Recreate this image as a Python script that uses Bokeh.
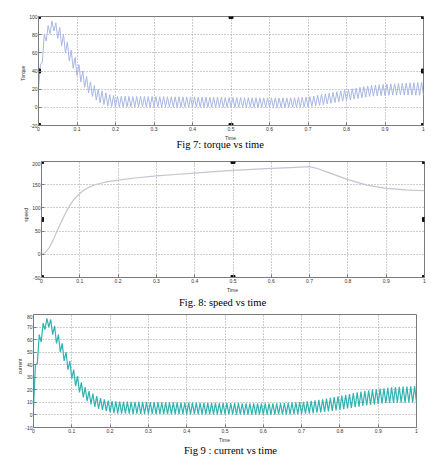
import math
from bokeh.plotting import figure
from bokeh.layouts import column, row
from bokeh.models import Range1d, FixedTicker
from bokeh.core.properties import value
from bokeh.embed import file_html
from bokeh.resources import INLINE

# ---------------- data ----------------
time_ticks = [0, 0.1, 0.2, 0.3, 0.4, 0.5, 0.6, 0.7, 0.8, 0.9, 1]
time_tick_labels = ["0", "0.1", "0.2", "0.3", "0.4", "0.5", "0.6", "0.7", "0.8", "0.9", "1"]
torque_ticks = [-20, 0, 20, 40, 60, 80, 100]
speed_ticks = [-50, 0, 50, 100, 150, 200]
current_ticks = [-10, 0, 10, 20, 30, 40, 50, 60, 70, 80]

ripple_period = 0.01  # one ripple cycle (trough -> peak -> trough)

# torque: trough value at start of each cycle, peak value mid-cycle
torque_lo = [
    20, 50, 73, 81, 84, 76, 68, 60, 51, 43,
    35, 28, 22, 16, 12, 8, 5, 3, 1.5, 1,
    0.5, 0.5, 0.4, 0.5, 0.6, 0.5, 0.4, 0.5, 0.5, 0.4,
    0.5, 0.5, 0.4, 0.3, 0.4, 0.5, 0.4, 0.3, 0.3, 0.4,
    0.3, 0.3, 0.2, 0.3, 0.2, 0.2, 0.1, 0.2, 0.1, 0.1,
    0.1, 0, 0.1, 0, 0, 0.1, 0, 0, 0, 0.1,
    0, 0, 0, 0, 0, 0.1, 0.2, 0.2, 0.3, 0.4,
    0.5, 1, 1.5, 2.2, 3, 3.7, 4.5, 5.2, 6, 6.8,
    7.5, 8.2, 9, 9.8, 10.5, 11.2, 12, 12.3, 12.5, 12.8,
    13, 13.2, 13.4, 13.5, 13.5, 13.6, 13.5, 13.4, 13.3, 13.2,
    13.2]
torque_hi = [
    47, 80, 90, 95, 93, 88, 80, 72, 63, 55,
    47, 40, 34, 28, 24, 20, 18, 16, 14, 13,
    12, 12, 12.2, 12, 11.8, 12, 12.1, 11.9, 11.8, 12,
    11.8, 11.7, 11.8, 11.6, 11.7, 11.5, 11.6, 11.5, 11.4, 11.5,
    11.3, 11.4, 11.2, 11.3, 11.1, 11, 11.1, 10.9, 10.8, 10.9,
    10.8, 10.7, 10.8, 10.6, 10.7, 10.5, 10.6, 10.5, 10.4, 10.5,
    10.4, 10.5, 10.3, 10.4, 10.3, 10.5, 10.6, 10.8, 11, 11.3,
    11.8, 12.5, 13.2, 14, 14.8, 15.6, 16.4, 17.2, 18, 18.8,
    19.6, 20.4, 21.2, 22, 22.8, 23.5, 24.2, 24.6, 25, 25.3,
    25.6, 25.8, 26, 26.3, 26.5, 26.7, 27, 27.2, 27.4, 27.6]

# speed (smooth curve)
speed_t = [0, 0.01, 0.02, 0.03, 0.04, 0.05, 0.06, 0.07, 0.08, 0.09, 0.10,
           0.11, 0.12, 0.13, 0.14, 0.15, 0.17, 0.20, 0.25, 0.30, 0.35, 0.40,
           0.45, 0.50, 0.55, 0.60, 0.65, 0.70, 0.72, 0.75, 0.80, 0.85, 0.90,
           0.95, 1.0]
speed = [0, 4, 14, 30, 49, 67, 84, 100, 113, 123, 131,
         138, 143, 147, 150, 152, 156, 160, 165, 169, 172, 175,
         178, 181, 183, 185, 187, 189, 185, 176, 161, 149, 142,
         139, 137]

# current: trough / peak per ripple cycle
current_lo = [
    5, 41, 58, 68, 70, 64, 57, 50, 43, 36,
    29, 23, 18, 14, 11, 8.5, 6.5, 5, 4, 3,
    2, 1.5, 1.2, 1, 1, 1, 0.9, 1, 0.9, 0.8,
    0.8, 0.8, 0.7, 0.8, 0.7, 0.7, 0.6, 0.7, 0.6, 0.6,
    0.6, 0.5, 0.6, 0.5, 0.5, 0.5, 0.5, 0.4, 0.5, 0.4,
    0.4, 0.4, 0.4, 0.3, 0.4, 0.3, 0.3, 0.3, 0.3, 0.3,
    0.3, 0.3, 0.3, 0.3, 0.4, 0.4, 0.5, 0.5, 0.6, 0.7,
    0.8, 1, 1.2, 1.5, 1.8, 2.1, 2.5, 2.9, 3.3, 3.7,
    4.1, 4.6, 5.1, 5.6, 6.1, 6.6, 7.1, 7.6, 8, 8.4,
    8.8, 9.1, 9.3, 9.5, 9.6, 9.7, 9.8, 9.8, 9.9, 9.9,
    10]
current_hi = [
    40, 64, 73, 77, 76, 71, 64, 57, 50, 43,
    36, 31, 26, 22, 19, 17, 15, 13.5, 12.5, 11.5,
    11, 10.8, 10.7, 10.6, 10.6, 10.5, 10.5, 10.4, 10.4, 10.3,
    10.3, 10.2, 10.2, 10.1, 10.1, 10, 10, 10, 9.9, 9.9,
    9.8, 9.8, 9.8, 9.7, 9.7, 9.6, 9.6, 9.6, 9.5, 9.5,
    9.5, 9.4, 9.4, 9.4, 9.3, 9.3, 9.3, 9.3, 9.2, 9.2,
    9.2, 9.2, 9.3, 9.3, 9.4, 9.5, 9.6, 9.8, 10, 10.2,
    10.5, 10.8, 11.2, 11.6, 12, 12.5, 13, 13.6, 14.2, 14.8,
    15.4, 16, 16.7, 17.4, 18, 18.6, 19.2, 19.7, 20.2, 20.6,
    21, 21.3, 21.6, 21.9, 22.1, 22.3, 22.5, 22.6, 22.8, 22.9]

captions = ["Fig 7: torque vs  time", "Fig. 8: speed vs time", "Fig 9 : current vs time"]
y_titles = ["Torque", "speed", "current"]
x_title = "Time"


def ripple_series(lo, hi):
    t, y = [], []
    for k in range(len(hi)):
        t.append(k * ripple_period)
        y.append(lo[k])
        t.append(k * ripple_period + ripple_period / 2)
        y.append(hi[k])
    t.append(len(hi) * ripple_period)
    y.append(lo[len(hi)])
    return t, y


GRID = "#9a9a9a"
AX = "#7a7a7a"
TXT = "#333333"
W = 431
BOTTOM = 10  # band reserved for the x tick labels


def blank(width, height):
    c = figure(width=width, height=height, output_backend="svg", toolbar_location=None,
               x_range=Range1d(0, width), y_range=Range1d(height, 0),
               x_axis_location=None, y_axis_location=None,
               min_border_left=0, min_border_right=0,
               min_border_top=0, min_border_bottom=0)
    c.outline_line_color = None
    c.grid.visible = False
    c.background_fill_color = "white"
    c.border_fill_color = "white"
    return c


def make_fig(lw, lx, lb, rb, top, fh, yticks, ytitle):
    p = figure(width=W - lw, frame_height=fh, output_backend="svg",
               toolbar_location=None,
               x_range=Range1d(time_ticks[0], time_ticks[-1]),
               y_range=Range1d(yticks[0], yticks[-1]),
               min_border_left=lb, min_border_right=rb,
               min_border_top=top, min_border_bottom=BOTTOM)
    p.outline_line_color = AX
    p.outline_line_width = 1
    p.background_fill_color = "white"
    p.border_fill_color = "white"
    p.xaxis.ticker = FixedTicker(ticks=time_ticks)
    p.xaxis.major_label_overrides = {t: s for t, s in zip(time_ticks, time_tick_labels)}
    p.yaxis.ticker = FixedTicker(ticks=yticks)
    p.yaxis.major_label_overrides = {v: str(v) for v in yticks}
    for ax in (p.xaxis[0], p.yaxis[0]):
        ax.axis_line_color = AX
        ax.major_tick_line_color = AX
        ax.major_tick_in = 3
        ax.major_tick_out = 0
        ax.minor_tick_line_color = None
        ax.major_label_text_font = "Liberation Sans"
        ax.major_label_text_font_size = "5px"
        ax.major_label_text_color = TXT
        ax.major_label_standoff = 1
    p.grid.grid_line_color = GRID
    p.grid.grid_line_dash = "1 2"
    p.grid.grid_line_width = 1

    # y-axis title strip to the left of the plot
    h = top + fh + BOTTOM
    yl = blank(lw, h)
    yl.text(x=[lx], y=[top + fh / 2], text=[ytitle], angle=math.pi / 2,
            text_align="center", text_baseline="middle",
            text_font=value("Liberation Sans"), text_font_size="5px", text_color=TXT)
    return p, row(yl, p, spacing=0)


def band(height, time_x, time_y, cap_text, cap_x, cap_y):
    c = blank(W, height)
    c.text(x=[time_x], y=[time_y], text=[x_title], text_align="center",
           text_baseline="middle", text_font=value("Liberation Sans"),
           text_font_size="5px", text_color=TXT)
    c.text(x=[cap_x], y=[cap_y], text=[cap_text], text_align="center",
           text_baseline="middle", text_font=value("Liberation Serif"),
           text_font_size="10.5px", text_color="#000000")
    return c


def add_handles(p, yticks):
    x0, x1 = time_ticks[0], time_ticks[-1]
    y0, y1 = yticks[0], yticks[-1]
    xm, ym = (x0 + x1) / 2, (y0 + y1) / 2
    p.scatter(x=[x0, xm, x1, x1, x1, xm, x0, x0],
              y=[y1, y1, y1, ym, y0, y0, y0, ym],
              marker="square", size=4, color="#111111")


# Fig 7 torque
p1, r1 = make_fig(26, 22, 11, 8, 16, 109, torque_ticks, y_titles[0])
tt, ty = ripple_series(torque_lo, torque_hi)
p1.line(tt, ty, line_color="#a9b8e2", line_width=1)
add_handles(p1, torque_ticks)
b1 = band(26, 230, 2.5, captions[0], 221, 9)

# Fig 8 speed
p2, r2 = make_fig(29, 25.5, 12, 7, 0, 116, speed_ticks, y_titles[1])
p2.line(speed_t, speed, line_color="#c4c4d4", line_width=1.2)
add_handles(p2, speed_ticks)
b2 = band(27, 232, 2.5, captions[1], 222, 15)

# Fig 9 current
p3, r3 = make_fig(22, 19, 10, 15, 0, 113, current_ticks, y_titles[2])
ct, cy = ripple_series(current_lo, current_hi)
p3.line(ct, cy, line_color="#2fb4b0", line_width=1.2)
b3 = band(19, 224, 2.5, captions[2], 230, 13)

layout = column(r1, b1, r2, b2, r3, b3, spacing=0)
open("out.html", "w").write(file_html(layout, INLINE))
